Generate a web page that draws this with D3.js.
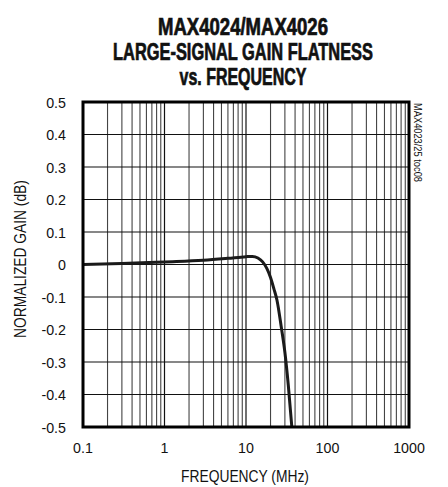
<!DOCTYPE html>
<html><head><meta charset="utf-8">
<script src="https://cdn.jsdelivr.net/npm/d3@7"></script>
<style>
html,body{margin:0;padding:0;background:#fff;}
text{font-family:"Liberation Sans",Arial,sans-serif;fill:#111;}
</style></head>
<body>
<svg id="c" width="448" height="487"></svg>
<script>
const titleLines = ["MAX4024/MAX4026", "LARGE-SIGNAL GAIN FLATNESS", "vs. FREQUENCY"];
const xTicks = [0.1, 1, 10, 100, 1000];
const xTickLabels = ["0.1", "1", "10", "100", "1000"];
const yTicks = [0.5, 0.4, 0.3, 0.2, 0.1, 0, -0.1, -0.2, -0.3, -0.4, -0.5];
const yTickLabels = ["0.5", "0.4", "0.3", "0.2", "0.1", "0", "-0.1", "-0.2", "-0.3", "-0.4", "-0.5"];
const freqMHz = [0.1, 0.3, 1, 3, 6, 10, 12, 14, 16, 18, 20, 22, 24, 27, 30, 33, 36.5];
const gainDB  = [0.0, 0.003, 0.008, 0.013, 0.019, 0.024, 0.025, 0.02, 0.008, -0.012, -0.04, -0.075, -0.11, -0.19, -0.27, -0.37, -0.5];
const xLabel = "FREQUENCY (MHz)";
const yLabel = "NORMALIZED GAIN (dB)";
const sideNote = "MAX4023/25 toc08";

const svg = d3.select("#c");
const L = 83, R = 409, T = 102, B = 427;
const x = d3.scaleLog().domain([0.1, 1000]).range([L, R]);
const y = d3.scaleLinear().domain([-0.5, 0.5]).range([B, T]);

function squeezed(parent, str, cx, cy, size, width, rot, bold) {
  const g = parent.append("g").attr("transform", `translate(${cx},${cy}) rotate(${rot})`);
  const t = g.append("text").attr("text-anchor", "middle").attr("font-size", size).text(str);
  if (bold) t.attr("font-weight", "bold").attr("stroke", "#111").attr("stroke-width", 0.7);
  const w = t.node().getComputedTextLength();
  t.attr("transform", `scale(${width / w},1)`);
  return t;
}

// title
const titleLens = [170, 260, 127];
titleLines.forEach((s, i) => squeezed(svg, s, 243, 35 + i * 25, 23, titleLens[i], 0, true));

// grid
const minor = [];
for (let e = -1; e < 3; e++) for (let m = 2; m <= 9; m++) minor.push(m * Math.pow(10, e));
const g = svg.append("g");
g.selectAll("line.v").data(minor).join("line")
  .attr("x1", d => x(d)).attr("x2", d => x(d)).attr("y1", T).attr("y2", B)
  .attr("stroke", "#444").attr("stroke-width", 1.1);
g.selectAll("line.d").data(xTicks.slice(1, -1)).join("line")
  .attr("x1", d => x(d)).attr("x2", d => x(d)).attr("y1", T).attr("y2", B)
  .attr("stroke", "#111").attr("stroke-width", 1.2);
g.selectAll("line.h").data(yTicks.slice(1, -1)).join("line")
  .attr("x1", L).attr("x2", R).attr("y1", d => y(d)).attr("y2", d => y(d))
  .attr("stroke", "#111").attr("stroke-width", 1.1);

// curve
const pts = freqMHz.map((f, i) => [f, gainDB[i]]);
svg.append("path").datum(pts)
  .attr("d", d3.line().x(d => x(d[0])).y(d => y(d[1])).curve(d3.curveMonotoneX))
  .attr("fill", "none").attr("stroke", "#1a1a1a").attr("stroke-width", 3);

// frame
svg.append("rect").attr("x", L).attr("y", T).attr("width", R - L).attr("height", B - T)
  .attr("fill", "none").attr("stroke", "#000").attr("stroke-width", 3);

// tick labels (slightly condensed)
svg.append("g").selectAll("text").data(yTicks).join("text")
  .attr("transform", d => `translate(66,${y(d) + 5.5}) scale(0.92,1)`)
  .attr("text-anchor", "end")
  .attr("font-size", 15.5).text((d, i) => yTickLabels[i]);
svg.append("g").selectAll("text").data(xTicks).join("text")
  .attr("transform", d => `translate(${x(d)},453) scale(0.92,1)`)
  .attr("text-anchor", "middle")
  .attr("font-size", 15.5).text((d, i) => xTickLabels[i]);

// axis titles
squeezed(svg, xLabel, 245, 482, 17, 128, 0, false);
squeezed(svg, yLabel, 26, 259, 17, 158, -90, false);
svg.append("text").attr("transform", `translate(414,103) rotate(90)`)
  .attr("text-anchor", "start").attr("font-size", 10)
  .attr("textLength", 79).attr("lengthAdjust", "spacingAndGlyphs").text(sideNote);
</script>
</body></html>
